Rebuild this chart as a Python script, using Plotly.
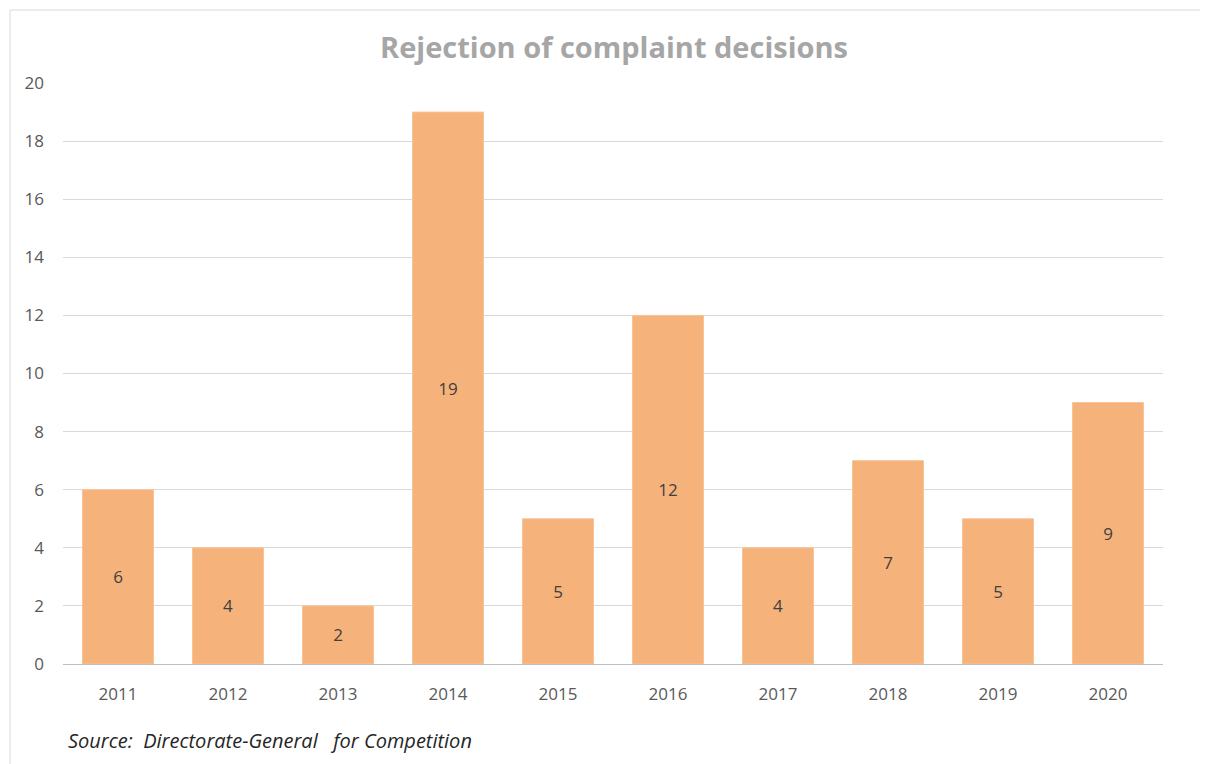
import plotly.graph_objects as go

years = ["2011", "2012", "2013", "2014", "2015", "2016", "2017", "2018", "2019", "2020"]
decisions = [6, 4, 2, 19, 5, 12, 4, 7, 5, 9]
y_ticks = [0, 2, 4, 6, 8, 10, 12, 14, 16, 18, 20]

title_text = "Rejection of complaint decisions"
source_text = "Source:  Directorate-General   for Competition"

# page body has an 8px margin, so lay out in (target - 8) coordinates
OFF = 8
W, H = 1208 - OFF, 764 - OFF
ml, mt = 63 - OFF, 83 - OFF
plot_right, plot_bottom = 1163 - OFF, 664 - OFF
mr, mb = W - plot_right, H - plot_bottom
pw, ph = W - ml - mr, H - mt - mb

fig = go.Figure(go.Bar(
    x=years, y=decisions,
    marker=dict(color="rgb(245,178,123)", line=dict(color="rgb(248,196,150)", width=1)),
    text=[str(v) for v in decisions],
    textposition="inside", insidetextanchor="middle",
    textfont=dict(family="Open Sans", size=17, color="#404040"),
    hoverinfo="skip",
))

fig.update_layout(
    width=W, height=H,
    margin=dict(l=ml, r=mr, t=mt, b=mb),
    paper_bgcolor="white", plot_bgcolor="white",
    bargap=0.355,
    showlegend=False,
    font=dict(family="Open Sans", color="#595959"),
    title=dict(text="<b>" + title_text + "</b>", x=(614 - OFF - ml) / pw, xref="paper",
               xanchor="center", y=1 - (48 - OFF) / H, yanchor="middle",
               font=dict(family="Open Sans", size=29, color="#A6A6A6")),
    xaxis=dict(showgrid=False, showline=True, linecolor="#BFBFBF", linewidth=1,
               ticks="", tickfont=dict(size=17, color="#595959"), ticklabelstandoff=15),
    yaxis=dict(range=[0, 20], tickvals=y_ticks, showgrid=True, gridcolor="#D9D9D9",
               gridwidth=1, zeroline=False, showline=False, ticks="",
               tickfont=dict(size=17, color="#595959"), ticklabelstandoff=18),
)

fig.add_annotation(text="<i>" + source_text + "</i>", xref="paper", yref="paper",
                   x=(66 - 63) / pw, y=-(740 - 664) / ph, xanchor="left", yanchor="middle",
                   showarrow=False, font=dict(family="Open Sans", size=20, color="#262626"))

fig.add_shape(type="rect", xref="paper", yref="paper",
              x0=(10 - OFF - ml) / pw, x1=(W + 20 - ml) / pw,
              y0=-(H + 20 - mt - ph) / ph, y1=1 + (mt - (10 - OFF)) / ph,
              line=dict(color="#D9D9D9", width=1), layer="below")

fig.write_html("out.html")
